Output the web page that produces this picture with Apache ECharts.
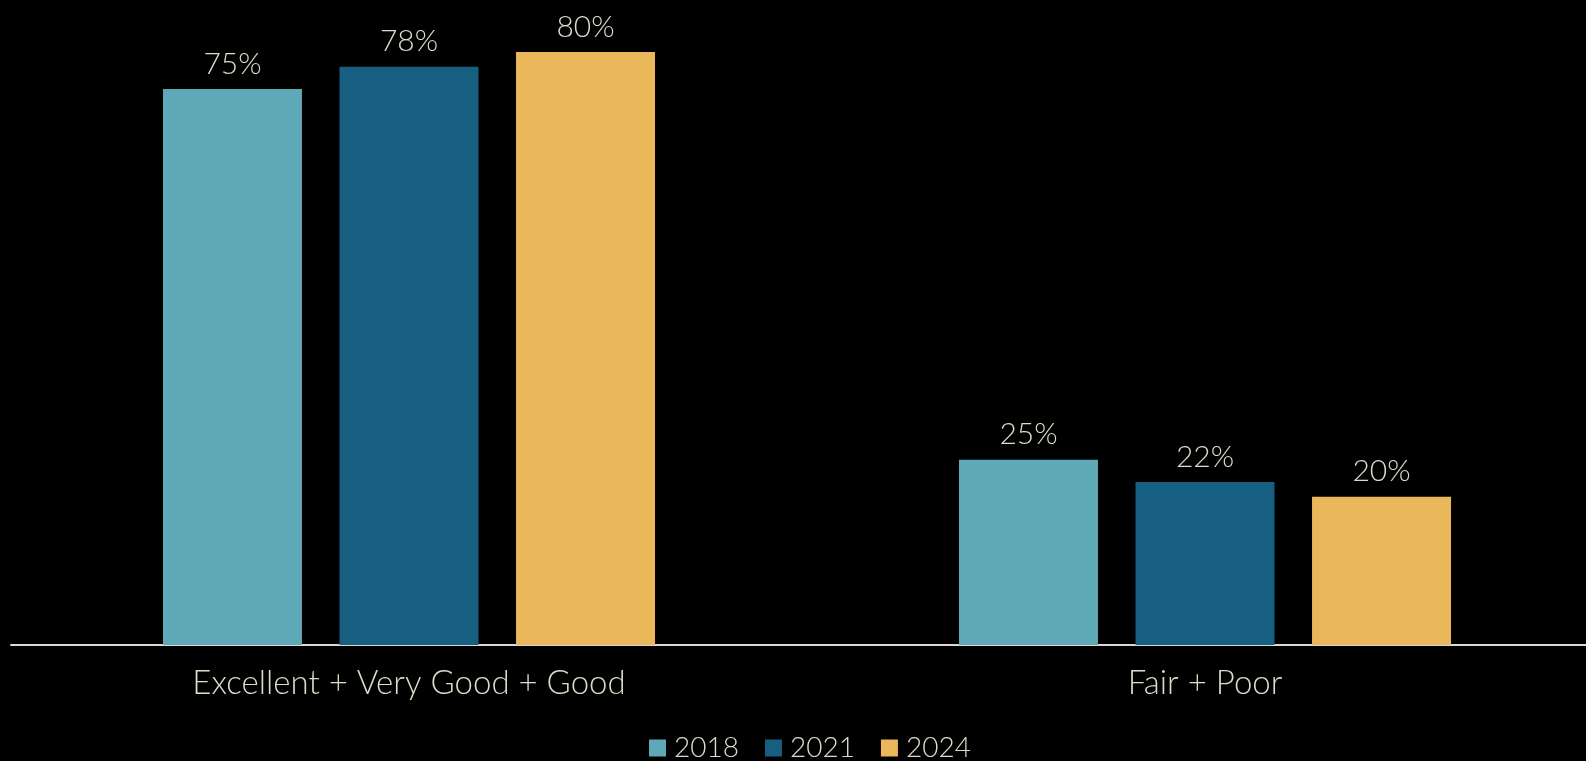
<!DOCTYPE html>
<html>
<head>
<meta charset="utf-8">
<script src="https://cdn.jsdelivr.net/npm/echarts@6/dist/echarts.min.js"></script>
<style>
  html, body { margin: 0; padding: 0; background: #000; }
  #chart { width: 1586px; height: 761px; }
</style>
</head>
<body>
<div id="chart"></div>
<script>
const categories = ['Excellent + Very Good + Good', 'Fair + Poor'];
const years = ['2018', '2021', '2024'];
const values2018 = [75, 25];
const values2021 = [78, 22];
const values2024 = [80, 20];

const colors = ['#5fa8b7', '#175f80', '#ebb75b'];
const textColor = '#dcdccb';
const font = 'Lato, "Open Sans", sans-serif';

const makeSeries = (name, data, color) => ({
    name: name,
    type: 'bar',
    data: data,
    barWidth: 139,
    barGap: '27%',
    itemStyle: { color: color },
    label: {
        show: true,
        position: 'top',
        distance: 10,
        formatter: '{c}%',
        color: textColor,
        fontFamily: font,
        fontSize: 30,
        fontWeight: 300
    }
});

const chart = echarts.init(document.getElementById('chart'));
chart.setOption({
    backgroundColor: '#000',
    animation: false,
    legend: {
        data: years,
        left: 644,
        top: 729,
        itemWidth: 17,
        itemHeight: 17,
        itemGap: 26,
        icon: 'rect',
        textStyle: { color: textColor, fontFamily: font, fontSize: 28, fontWeight: 300, padding: [0, 0, 0, 3] }
    },
    grid: { left: 11, width: 1592, top: 52, bottom: 116, containLabel: false, outerBoundsMode: 'none' },
    xAxis: {
        type: 'category',
        data: categories,
        axisLine: { lineStyle: { color: '#d9d9d9', width: 2 } },
        axisTick: { show: false },
        axisLabel: {
            color: textColor,
            fontFamily: font,
            fontSize: 33,
            fontWeight: 300,
            margin: 22
        }
    },
    yAxis: {
        type: 'value',
        min: 0,
        max: 80,
        show: false
    },
    series: [
        makeSeries(years[0], values2018, colors[0]),
        makeSeries(years[1], values2021, colors[1]),
        makeSeries(years[2], values2024, colors[2])
    ]
});
</script>
</body>
</html>
